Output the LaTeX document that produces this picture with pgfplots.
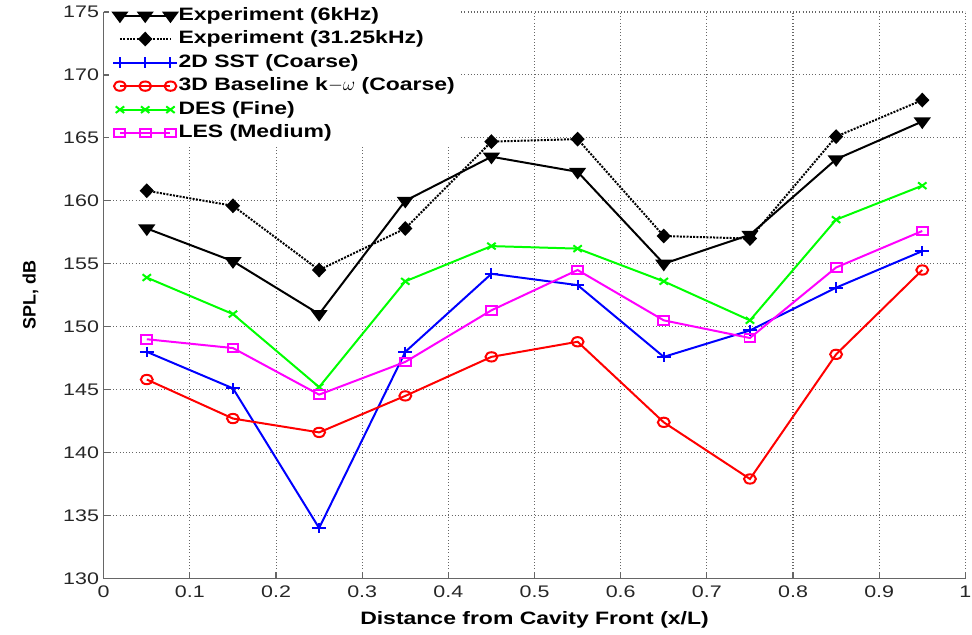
\documentclass[border=0pt]{standalone}
\usepackage{pgfplots}
\pgfplotsset{compat=1.18}
\usepackage{fontspec}
\setmainfont{Liberation Sans}[FakeStretch=1.28]
\newfontfamily\plainfont{Liberation Sans}
\definecolor{mgreen}{rgb}{0,1,0}
\definecolor{mmag}{rgb}{1,0,1}
\pgfplotsset{
  three marks/.style={legend image code/.code={
    \draw[##1] plot coordinates {(0pt,0pt) (19pt,0pt) (38pt,0pt)};
  }},
  middle mark/.style={legend image code/.code={
    \draw[##1, mark=none] (0pt,0pt) -- (38pt,0pt);
    \draw[##1] plot coordinates {(19pt,0pt)};
  }}
}
\begin{document}
\begin{tikzpicture}
\begin{axis}[
  anchor=south west, at={(0pt,0pt)},
  width=648pt, height=426pt, scale only axis,
  xmin=0, xmax=1, ymin=130, ymax=175,
  axis lines*=left,
  xtick={0,0.1,0.2,0.3,0.4,0.5,0.6,0.7,0.8,0.9,1},
  xticklabels={0,0.1,0.2,0.3,0.4,0.5,0.6,0.7,0.8,0.9,1},
  ytick={130,135,...,175},
  tick align=inside,
  major tick length=5pt,
  axis line style={black!60, line width=0.9pt},
  tick style={black!60, line width=0.9pt},
  grid=major,
  major grid style={dotted, black!60, line width=0.8pt},
  /pgf/number format/assume math mode=true,
  tick label style={font=\fontsize{12.6}{15}\selectfont, black!85},
  xticklabel style={yshift=-2pt},
  xlabel={\bfseries Distance from Cavity Front (x/L)},
  ylabel={\plainfont\bfseries SPL, dB},
  label style={font=\fontsize{13.5}{15}\selectfont},
  xlabel style={at={(axis description cs:0.5,-0.073)}, anchor=center},
  ylabel style={at={(axis description cs:-0.085,0.5)}, anchor=center},
  legend style={at={(axis description cs:0.006,1.0165)}, anchor=north west,
    draw=none, fill=white, font=\bfseries\fontsize{13.5}{16}\selectfont,
    cells={anchor=west},
    nodes={inner sep=1pt, text height=10pt, text depth=3pt}, row sep=2.7pt},
  legend cell align=left,
  every axis plot/.append style={line width=1.5pt},
]
\addplot[black, mark=triangle*, mark size=4.5pt, mark options={rotate=180, xscale=1.28, solid}, three marks]
  coordinates {(0.05,157.8) (0.15,155.2) (0.25,151.0) (0.35,160.0) (0.45,163.5) (0.55,162.3) (0.65,155.0) (0.75,157.3) (0.85,163.3) (0.95,166.3)};
\addlegendentry{Experiment (6kHz)}
\addplot[black, densely dotted, mark=diamond*, mark size=4.5pt, mark options={xscale=1.28, solid}, middle mark]
  coordinates {(0.05,160.8) (0.15,159.6) (0.25,154.5) (0.35,157.8) (0.45,164.7) (0.55,164.9) (0.65,157.2) (0.75,157.0) (0.85,165.1) (0.95,168.0)};
\addlegendentry{Experiment (31.25kHz)}
\addplot[blue, mark=+, mark size=4pt, mark options={xscale=1.28}, three marks]
  coordinates {(0.05,148.0) (0.15,145.1) (0.25,134.0) (0.35,148.0) (0.45,154.2) (0.55,153.3) (0.65,147.6) (0.75,149.7) (0.85,153.1) (0.95,156.0)};
\addlegendentry{2D SST (Coarse)}
\addplot[red, mark=o, mark size=3.5pt, mark options={xscale=1.28}, three marks]
  coordinates {(0.05,145.8) (0.15,142.7) (0.25,141.6) (0.35,144.5) (0.45,147.6) (0.55,148.8) (0.65,142.4) (0.75,137.9) (0.85,147.8) (0.95,154.5)};
\addlegendentry{3D Baseline k$-\omega$ (Coarse)}
\addplot[mgreen, mark=x, mark size=3.5pt, mark options={xscale=1.28}, three marks]
  coordinates {(0.05,153.9) (0.15,151.0) (0.25,145.2) (0.35,153.6) (0.45,156.4) (0.55,156.2) (0.65,153.6) (0.75,150.5) (0.85,158.5) (0.95,161.2)};
\addlegendentry{DES (Fine)}
\addplot[mmag, mark=square, mark size=3.2pt, mark options={xscale=1.28}, three marks]
  coordinates {(0.05,149.0) (0.15,148.3) (0.25,144.6) (0.35,147.2) (0.45,151.3) (0.55,154.5) (0.65,150.5) (0.75,149.1) (0.85,154.7) (0.95,157.6)};
\addlegendentry{LES (Medium)}
\end{axis}
\pgfresetboundingbox
\path (-78pt,-42pt) rectangle (653pt,435pt);
\end{tikzpicture}
\end{document}
